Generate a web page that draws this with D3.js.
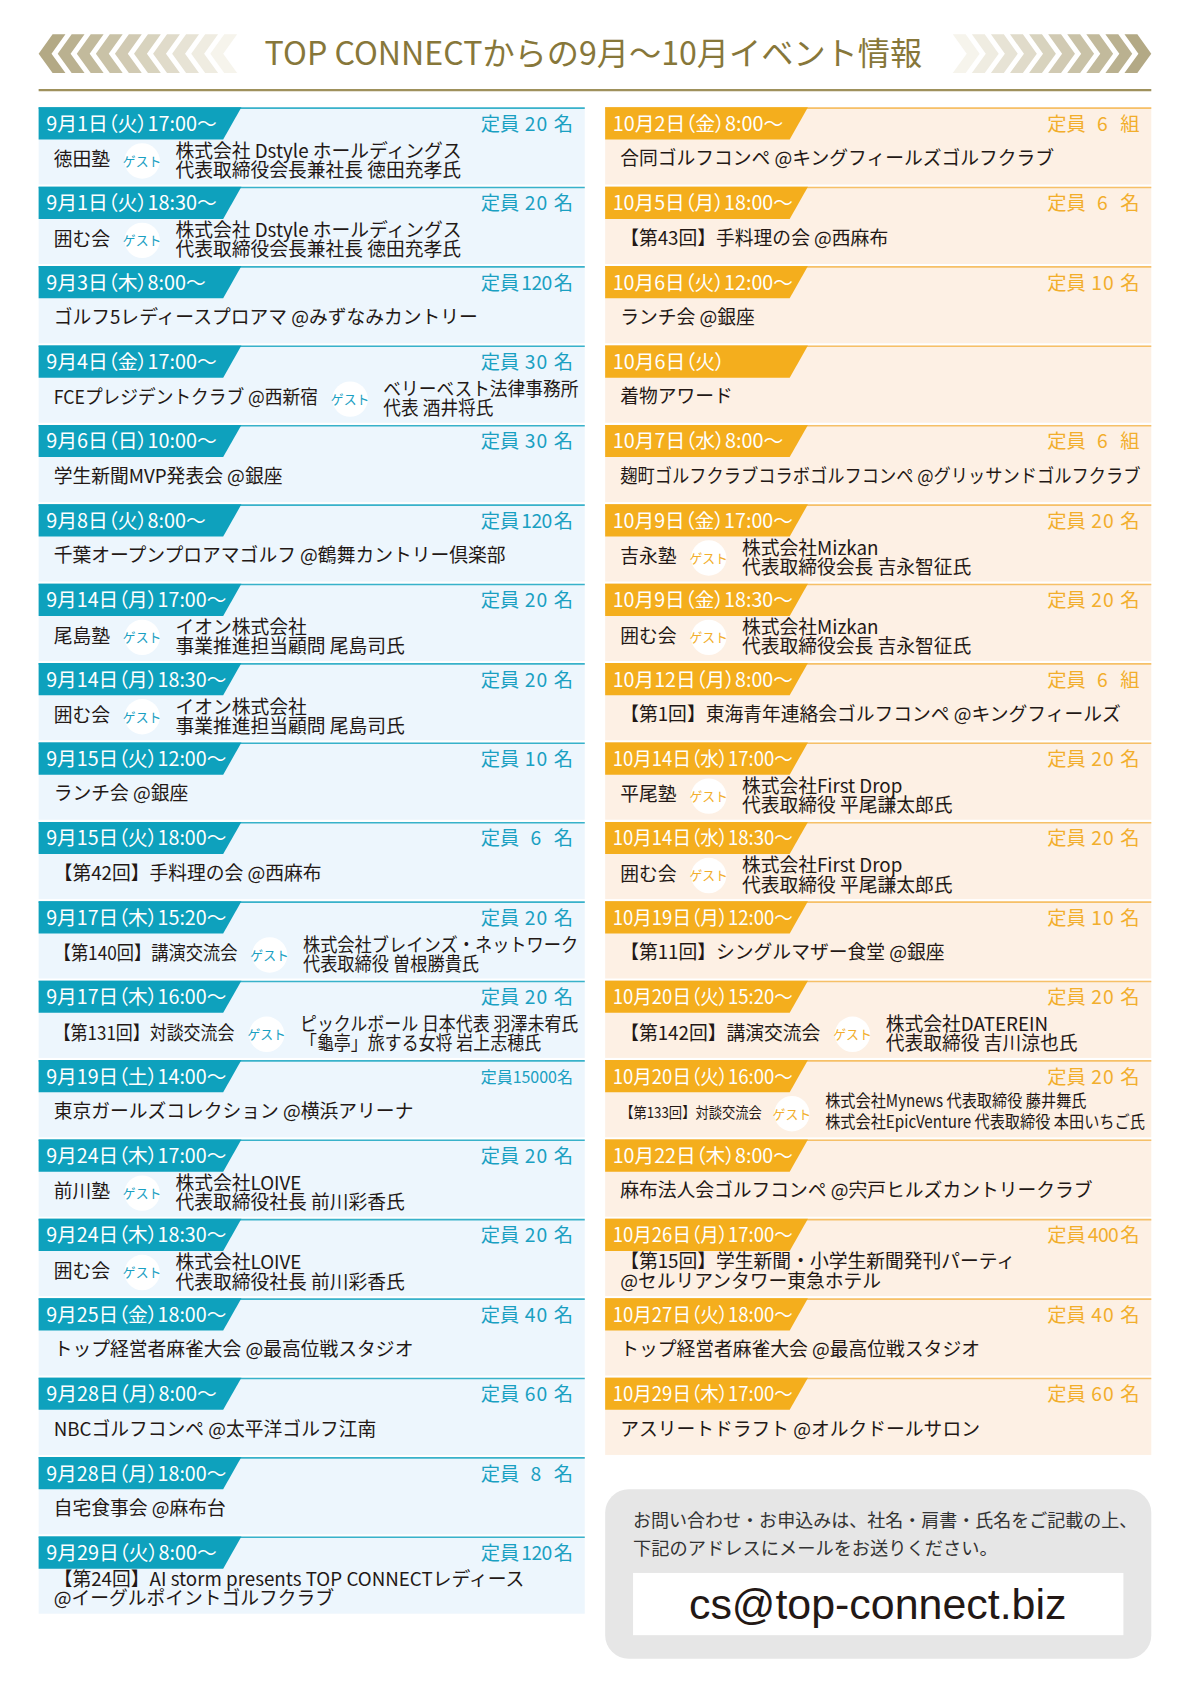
<!DOCTYPE html>
<html><head><meta charset="utf-8">
<script src="https://cdn.jsdelivr.net/npm/d3@7"></script>
<style>body{margin:0;background:#fff}svg{display:block}.band{font-feature-settings:"palt" 1}</style>
</head><body>
<svg id="c" width="1191" height="1684" viewBox="0 0 1110 1569.5"></svg>
<script>
// ---------- DATA ----------
const pageTitle = "TOP CONNECTからの9月～10月イベント情報";

const septDates = ["9月1日（火）17:00～","9月1日（火）18:30～","9月3日（木）8:00～","9月4日（金）17:00～","9月6日（日）10:00～","9月8日（火）8:00～","9月14日（月）17:00～","9月14日（月）18:30～","9月15日（火）12:00～","9月15日（火）18:00～","9月17日（木）15:20～","9月17日（木）16:00～","9月19日（土）14:00～","9月24日（木）17:00～","9月24日（木）18:30～","9月25日（金）18:00～","9月28日（月）8:00～","9月28日（月）18:00～","9月29日（火）8:00～"];
const septCapacity = [20,20,120,30,30,120,20,20,10,6,20,20,15000,20,20,40,60,8,120];
const septUnits = ["名","名","名","名","名","名","名","名","名","名","名","名","名","名","名","名","名","名","名"];
const septTitles = ["徳田塾","囲む会","ゴルフ5レディースプロアマ @みずなみカントリー","FCEプレジデントクラブ @西新宿","学生新聞MVP発表会 @銀座","千葉オープンプロアマゴルフ @鶴舞カントリー倶楽部","尾島塾","囲む会","ランチ会 @銀座","【第42回】手料理の会 @西麻布","【第140回】講演交流会","【第131回】対談交流会","東京ガールズコレクション @横浜アリーナ","前川塾","囲む会","トップ経営者麻雀大会 @最高位戦スタジオ","NBCゴルフコンペ @太平洋ゴルフ江南","自宅食事会 @麻布台","【第24回】AI storm presents TOP CONNECTレディース\n@イーグルポイントゴルフクラブ"];
const septGuests = ["株式会社 Dstyle ホールディングス\n代表取締役会長兼社長 徳田充孝氏","株式会社 Dstyle ホールディングス\n代表取締役会長兼社長 徳田充孝氏","","ベリーベスト法律事務所\n代表 酒井将氏","","","イオン株式会社\n事業推進担当顧問 尾島司氏","イオン株式会社\n事業推進担当顧問 尾島司氏","","","株式会社ブレインズ・ネットワーク\n代表取締役 曽根勝貴氏","ピックルボール 日本代表 羽澤未宥氏\n「龜亭」旅する女将 岩上志穂氏","","株式会社LOIVE\n代表取締役社長 前川彩香氏","株式会社LOIVE\n代表取締役社長 前川彩香氏","","","",""];

const octDates = ["10月2日（金）8:00～","10月5日（月）18:00～","10月6日（火）12:00～","10月6日（火）","10月7日（水）8:00～","10月9日（金）17:00～","10月9日（金）18:30～","10月12日（月）8:00～","10月14日（水）17:00～","10月14日（水）18:30～","10月19日（月）12:00～","10月20日（火）15:20～","10月20日（火）16:00～","10月22日（木）8:00～","10月26日（月）17:00～","10月27日（火）18:00～","10月29日（木）17:00～"];
const octCapacity = [6,6,10,null,6,20,20,6,20,20,10,20,20,null,400,40,60];
const octUnits = ["組","名","名","","組","名","名","組","名","名","名","名","名","","名","名","名"];
const octTitles = ["合同ゴルフコンペ @キングフィールズゴルフクラブ","【第43回】手料理の会 @西麻布","ランチ会 @銀座","着物アワード","麹町ゴルフクラブコラボゴルフコンペ @グリッサンドゴルフクラブ","吉永塾","囲む会","【第1回】東海青年連絡会ゴルフコンペ @キングフィールズ","平尾塾","囲む会","【第11回】シングルマザー食堂 @銀座","【第142回】講演交流会","【第133回】対談交流会","麻布法人会ゴルフコンペ @宍戸ヒルズカントリークラブ","【第15回】学生新聞・小学生新聞発刊パーティ\n@セルリアンタワー東急ホテル","トップ経営者麻雀大会 @最高位戦スタジオ","アスリートドラフト @オルクドールサロン"];
const octGuests = ["","","","","","株式会社Mizkan\n代表取締役会長 吉永智征氏","株式会社Mizkan\n代表取締役会長 吉永智征氏","","株式会社First Drop\n代表取締役 平尾謙太郎氏","株式会社First Drop\n代表取締役 平尾謙太郎氏","","株式会社DATEREIN\n代表取締役 吉川涼也氏","株式会社Mynews 代表取締役 藤井舞氏\n株式会社EpicVenture 代表取締役 本田いちご氏","","","",""];

const guestLabel = "ゲスト";
const capLabel = "定員";
const contactLines = ["お問い合わせ・お申込みは、社名・肩書・氏名をご記載の上、","下記のアドレスにメールをお送りください。"];
const contactEmail = "cs@top-connect.biz";

// ---------- DRAW ----------
const FONT = "'Noto Sans CJK JP','Noto Sans',sans-serif";
const INK = "#231815";
const svg = d3.select("#c").style("font-family", FONT);

// header chevrons
const chevIdx = d3.range(10);
const chevX = d3.scaleLinear().domain([0, 9]).range([0, 160]);
const chevFill = d3.scaleLinear().domain([0, 9]).range(["#b3a985", "#f6f4ec"]);
const chevShape = [[0,18],[13,0],[25,0],[12,18],[25,36],[13,36]];
const gL = svg.append("g").attr("transform", "translate(36,32)");
gL.selectAll("polygon").data(chevIdx).join("polygon")
  .attr("points", i => chevShape.map(p => [p[0] + chevX(i), p[1]].join(",")).join(" "))
  .attr("fill", i => chevFill(i));
const gR = svg.append("g").attr("transform", "translate(1073,32) scale(-1,1)");
gR.selectAll("polygon").data(chevIdx).join("polygon")
  .attr("points", i => chevShape.map(p => [p[0] + chevX(i), p[1]].join(",")).join(" "))
  .attr("fill", i => chevFill(i));

svg.append("text").attr("x", 553).attr("y", 61).attr("text-anchor", "middle")
  .attr("font-size", 30).attr("fill", "#87773a").text(pageTitle);
svg.append("line").attr("x1", 36).attr("x2", 1073).attr("y1", 84).attr("y2", 84)
  .attr("stroke", "#9f915c").attr("stroke-width", 2);

function fit(sel, maxW) {
  sel.each(function () {
    const len = this.getComputedTextLength();
    if (len > maxW) d3.select(this).attr("textLength", maxW).attr("lengthAdjust", "spacingAndGlyphs");
  });
}

const compactRows = new Set(["10月20日（火）16:00～"]);
const ROW = 74, TOP = 100, W = 509;

function drawColumn(x0, dates, caps, units, titles, guests, th) {
  const n = dates.length;
  const y = d3.scaleLinear().domain([0, n]).range([TOP, TOP + n * ROW]);
  const data = dates.map((d, i) => ({ i, date: d, cap: caps[i], unit: units[i], title: titles[i], guest: guests[i] }));
  const g = svg.append("g");
  const rows = g.selectAll("g.row").data(data).join("g").attr("class", "row")
    .attr("transform", d => `translate(${x0},${y(d.i)})`);

  rows.append("rect").attr("width", W).attr("height", 72).attr("fill", th.body);
  rows.append("line").attr("x1", 0).attr("x2", W).attr("y1", 0.75).attr("y2", 0.75)
    .attr("stroke", th.line).attr("stroke-width", 1.5);
  rows.append("path").attr("d", "M0,0H189L172,30H0Z").attr("fill", th.band);
  rows.append("text").attr("class", "band").attr("x", 7).attr("y", 22).attr("font-size", 18.5).attr("fill", "#fff")
    .text(d => d.date).call(fit, 168);

  // capacity
  rows.each(function (d) {
    if (d.cap == null) return;
    const r = d3.select(this);
    const s = String(d.cap);
    if (s.length > 3) {
      r.append("text").attr("x", W - 11).attr("y", 21).attr("text-anchor", "end")
        .attr("font-size", 15).attr("fill", th.cap).text(capLabel + s + d.unit)
        .attr("textLength", 86).attr("lengthAdjust", "spacingAndGlyphs");
    } else {
      r.append("text").attr("x", W - 97).attr("y", 22).attr("font-size", 18).attr("fill", th.cap).text(capLabel);
      r.append("text").attr("x", W - 45).attr("y", 22).attr("text-anchor", "middle").attr("font-size", 18)
        .attr("fill", th.cap).attr("letter-spacing", s.length > 2 ? -0.5 : 1).text(s);
      r.append("text").attr("x", W - 29).attr("y", 22).attr("font-size", 18).attr("fill", th.cap).text(d.unit);
    }
  });

  // body
  rows.each(function (d) {
    const r = d3.select(this);
    const compact = compactRows.has(d.date);
    const tl = d.title.split("\n");
    if (d.guest) {
      const t = r.append("text").attr("x", 14).attr("y", compact ? 54 : 55)
        .attr("font-size", compact ? 14 : 17.5).attr("fill", INK).text(tl[0]);
      const tw = t.node().getComputedTextLength();
      const gl = d.guest.split("\n");
      const gt = r.selectAll("text.guest").data(gl).join("text").attr("class", "guest")
        .attr("y", (_, k) => compact ? 44 + k * 19 : 47 + k * 18)
        .attr("font-size", compact ? 16 : 17.5).attr("fill", INK).text(s => s);
      const gws = gt.nodes().map(nd => nd.getComputedTextLength());
      const gw = d3.max(gws);
      const gap1 = compact ? 28 : 30, gap2 = 31;
      const k = Math.min(1, (W - 14 - gap1 - gap2 - 6) / (tw + gw));
      if (k < 1) t.attr("textLength", tw * k).attr("lengthAdjust", "spacingAndGlyphs");
      const bx = 14 + tw * k + gap1;
      const gx = bx + gap2;
      gt.attr("x", gx).each(function (_, j) {
        if (k < 1) d3.select(this).attr("textLength", gws[j] * k).attr("lengthAdjust", "spacingAndGlyphs");
      });
      r.append("circle").attr("cx", bx).attr("cy", 50).attr("r", 16.5).attr("fill", "#fff");
      r.append("text").attr("x", bx).attr("y", 54.5).attr("text-anchor", "middle").attr("font-size", 12)
        .attr("fill", th.cap).text(guestLabel);
    } else if (tl.length > 1) {
      r.selectAll("text.body").data(tl).join("text").attr("class", "body")
        .attr("x", 14).attr("y", (_, k) => 46 + k * 18).attr("font-size", 17.5).attr("fill", INK)
        .text(s => s).call(fit, W - 24);
    } else {
      r.append("text").attr("x", 14).attr("y", 54).attr("font-size", 17.5).attr("fill", INK)
        .text(tl[0]).call(fit, W - 24);
    }
  });
}

drawColumn(36, septDates, septCapacity, septUnits, septTitles, septGuests,
  { body: "#edf6fd", line: "#38b2ca", band: "#0ea1bd", cap: "#1aa0c2" });
drawColumn(564, octDates, octCapacity, octUnits, octTitles, octGuests,
  { body: "#fdf0e4", line: "#f6c067", band: "#f4ae1d", cap: "#f2ae2c" });

// contact box
const cb = svg.append("g").attr("transform", "translate(564,1388)");
cb.append("rect").attr("width", 509).attr("height", 158).attr("rx", 22).attr("fill", "#e6e6e6");
cb.selectAll("text.c").data(contactLines).join("text").attr("class", "c")
  .attr("x", 26).attr("y", (_, k) => 35 + k * 26).attr("font-size", 17).attr("fill", "#333")
  .text(s => s).call(fit, 470);
cb.append("rect").attr("x", 26).attr("y", 78).attr("width", 457).attr("height", 58).attr("fill", "#fff");
cb.append("text").attr("x", 254).attr("y", 121).attr("text-anchor", "middle")
  .attr("font-family", "'Liberation Sans',Arial,sans-serif").attr("font-size", 40).attr("fill", INK)
  .text(contactEmail);
</script>
</body></html>
